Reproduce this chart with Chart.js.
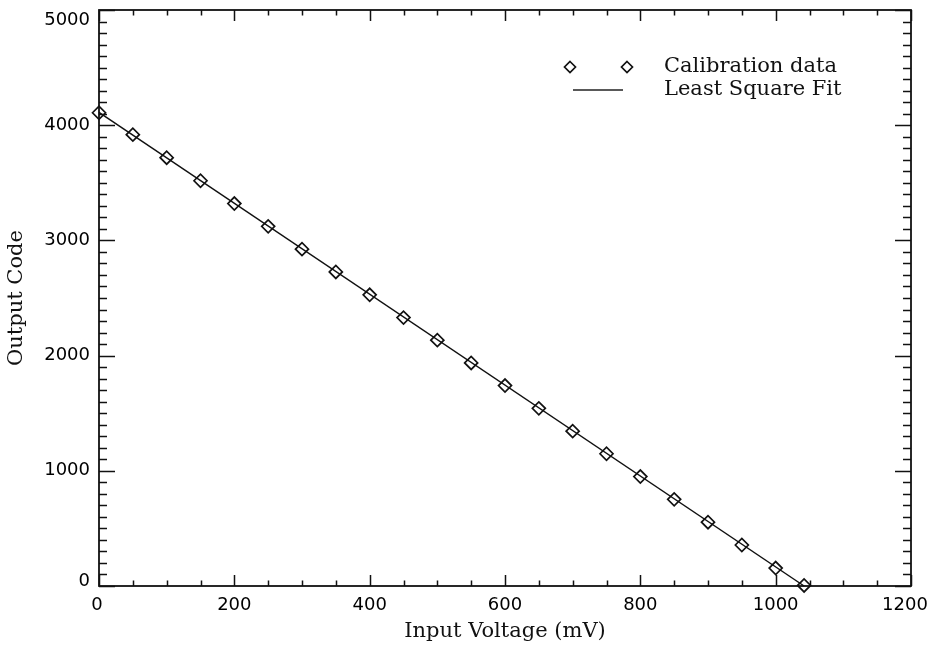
<!DOCTYPE html>
<html>
<head>
<meta charset="utf-8">
<script src="https://cdn.jsdelivr.net/npm/chart.js@4"></script>
<style>
  html, body { margin: 0; padding: 0; background: #fff; }
  #wrap { width: 938px; height: 646px; }
</style>
</head>
<body>
<div id="wrap"><canvas id="c" width="938" height="646"></canvas></div>
<script>
// ---- data ----
const voltages = [0, 50, 100, 150, 200, 250, 300, 350, 400, 450, 500, 550, 600, 650, 700, 750, 800, 850, 900, 950, 1000, 1042];
const codes    = [4108, 3918, 3718, 3518, 3320, 3122, 2924, 2726, 2528, 2330, 2134, 1936, 1740, 1542, 1344, 1148, 950, 752, 554, 356, 156, 5];
const fitVoltages = [0, 1042];
const fitCodes    = [4112, 0];
const xTicks = [0, 200, 400, 600, 800, 1000, 1200];
const yTicks = [0, 1000, 2000, 3000, 4000, 5000];
const legendLabels = ["Calibration data", "Least Square Fit"];
const xTitle = "Input Voltage (mV)";
const yTitle = "Output Code";

const SERIF = "'DejaVu Serif', 'Liberation Serif', serif";
const SANS = "'DejaVu Sans', 'Liberation Sans', sans-serif";

// shift the end labels inward, as the original plotting package does
const endLabelPlugin = {
  id: 'endLabels',
  beforeDraw(chart) {
    const ys = chart.scales.y, xs = chart.scales.x;
    ys.getLabelItems().forEach(it => {
      if (it._shifted) return;
      if (it.label === String(yTicks[yTicks.length - 1])) it.options.translation[1] += 10;
      if (it.label === String(yTicks[0])) it.options.translation[1] -= 5;
      it._shifted = true;
    });
    xs.getLabelItems().forEach(it => {
      if (it._shifted) return;
      if (it.label === String(xTicks[xTicks.length - 1])) it.options.translation[0] -= 6;
      if (it.label === String(xTicks[0])) it.options.translation[0] -= 2;
      it._shifted = true;
    });
  }
};

const tickPlugin = {
  id: 'idlTicks',
  afterDraw(chart) {
    const ctx = chart.ctx, a = chart.chartArea;
    const xs = chart.scales.x, ys = chart.scales.y;
    ctx.save();
    ctx.strokeStyle = '#111';
    ctx.lineWidth = 1.5;
    for (let v = xs.min; v <= xs.max + 1e-6; v += 50) {
      const px = Math.round(xs.getPixelForValue(v)) + 0.5;
      const len = (v % 200 === 0) ? 11 : 5.5;
      ctx.beginPath();
      ctx.moveTo(px, a.bottom); ctx.lineTo(px, a.bottom - len);
      ctx.moveTo(px, a.top); ctx.lineTo(px, a.top + len);
      ctx.stroke();
    }
    for (let v = ys.min; v <= ys.max + 1e-6; v += 100) {
      const py = Math.round(ys.getPixelForValue(v)) + 0.5;
      const len = (v % 1000 === 0) ? 16 : 8;
      ctx.beginPath();
      ctx.moveTo(a.left, py); ctx.lineTo(a.left + len, py);
      ctx.moveTo(a.right, py); ctx.lineTo(a.right - len, py);
      ctx.stroke();
    }
    ctx.lineWidth = 1.8;
    ctx.strokeRect(a.left, a.top, a.right - a.left, a.bottom - a.top);

    // legend
    const ly1 = 67, ly2 = 90;
    ctx.fillStyle = '#fff';
    ctx.lineWidth = 1.7;
    [570, 627].forEach(cx => {
      ctx.beginPath();
      ctx.moveTo(cx, ly1 - 5.5); ctx.lineTo(cx + 5.5, ly1); ctx.lineTo(cx, ly1 + 5.5); ctx.lineTo(cx - 5.5, ly1);
      ctx.closePath(); ctx.fill(); ctx.stroke();
    });
    ctx.lineWidth = 1.3;
    ctx.strokeStyle = '#222';
    ctx.beginPath(); ctx.moveTo(573, ly2); ctx.lineTo(623, ly2); ctx.stroke();
    ctx.fillStyle = '#111';
    ctx.font = "21px " + SERIF;
    ctx.textBaseline = 'middle';
    ctx.textAlign = 'left';
    ctx.fillText(legendLabels[0], 664, ly1);
    ctx.fillText(legendLabels[1], 664, ly2);
    ctx.restore();
  }
};

new Chart(document.getElementById('c'), {
  type: 'scatter',
  data: {
    datasets: [
      {
        label: legendLabels[1],
        data: fitVoltages.map((x, i) => ({ x, y: fitCodes[i] })),
        showLine: true,
        borderColor: '#111',
        borderWidth: 1.5,
        pointRadius: 0,
        fill: false,
        order: 2
      },
      {
        label: legendLabels[0],
        data: voltages.map((x, i) => ({ x, y: codes[i] })),
        showLine: false,
        pointStyle: 'rectRot',
        pointRadius: 6.5,
        pointBorderWidth: 1.7,
        pointBackgroundColor: 'rgba(255,255,255,0)',
        pointBorderColor: '#111',
        order: 1
      }
    ]
  },
  options: {
    responsive: false,
    animation: false,
    clip: false,
    layout: { padding: { top: 10, right: 27, left: 0, bottom: 0 } },
    plugins: { legend: { display: false }, tooltip: { enabled: false } },
    scales: {
      x: {
        type: 'linear', min: 0, max: 1200,
        grid: { display: false, drawTicks: false },
        border: { display: false },
        afterBuildTicks: s => { s.ticks = xTicks.map(v => ({ value: v })); },
        ticks: { color: '#000', font: { family: SANS, size: 18 }, padding: 9, maxRotation: 0, autoSkip: false,
                 callback: v => String(v) },
        title: { display: true, text: xTitle, color: '#111', font: { family: SERIF, size: 21 }, padding: { top: 0, bottom: 2 } },
        afterFit: s => { s.height = 60; s.paddingLeft = 0; s.paddingRight = 0; }
      },
      y: {
        type: 'linear', min: 0, max: 5000,
        grid: { display: false, drawTicks: false },
        border: { display: false },
        afterBuildTicks: s => { s.ticks = yTicks.map(v => ({ value: v })); },
        ticks: { color: '#000', font: { family: SANS, size: 18 }, padding: 9, autoSkip: false,
                 callback: v => String(v) },
        title: { display: true, text: yTitle, color: '#111', font: { family: SERIF, size: 21 }, padding: { top: 4, bottom: 0 } },
        afterFit: s => { s.width = 99; s.paddingTop = 0; s.paddingBottom = 0; }
      }
    }
  },
  plugins: [endLabelPlugin, tickPlugin]
});
</script>
</body>
</html>
